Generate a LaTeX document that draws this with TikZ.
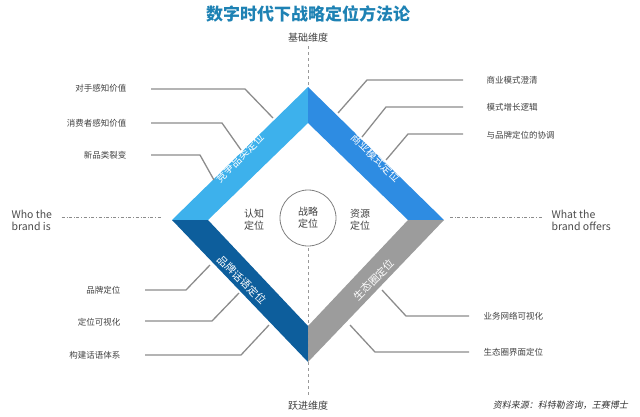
\documentclass[tikz,border=0pt]{standalone}
\usepackage{fontspec}
\usetikzlibrary{calc}
\setmainfont{Noto Sans CJK SC}
\begin{document}
\begin{tikzpicture}[x=1pt,y=-1pt,
  lab/.style={font=\fontsize{8.5}{10}\selectfont,text=black!75},
  call/.style={draw=black!45,line width=1.3pt},
  band/.style={font=\fontsize{10.5}{12}\selectfont,text=white,inner sep=0pt},
  dim/.style={font=\fontsize{10}{12}\selectfont,text=black!75},
  eng/.style={font=\fontsize{10.5}{12}\selectfont,text=black!70,align=left}]
\useasboundingbox (0,0) rectangle (640,416);
\definecolor{cA}{HTML}{3DB1EC}\definecolor{cB}{HTML}{2E8CE2}
\definecolor{cC}{HTML}{0D5E9C}\definecolor{cD}{HTML}{9C9C9C}
\coordinate (OT) at (308,87);\coordinate (OL) at (172,220);
\coordinate (OR) at (444,220);\coordinate (OB) at (308,362);
\coordinate (IT) at (308,123);\coordinate (IL) at (208,220);
\coordinate (IR) at (408,220);\coordinate (IB) at (308,326);
\fill[cA] (OT)--(OL)--(IL)--(IT)--cycle;
\fill[cB] (OT)--(OR)--(IR)--(IT)--cycle;
\fill[cC] (OB)--(OL)--(IL)--(IB)--cycle;
\fill[cD] (OB)--(OR)--(IR)--(IB)--cycle;
\node[font=\fontsize{17}{20}\selectfont\bfseries,text={rgb,255:red,30;green,130;blue,180}] (title) at (308,14) {数字时代下战略定位方法论};
\node[dim] (top) at (308,38) {基础维度};
\node[dim] (bot) at (308,406) {跃进维度};
\draw[black!40,dashed] (top.south) -- (OT);
\draw[black!40,dashed] (308,248) -- (bot.north);
\node[circle,draw=black!50,line width=0.8pt,minimum size=56pt,align=center,font=\fontsize{10}{12}\selectfont,text=black!75] (c) at (308,218) {战略\\定位};
\node[align=center,dim] (rz) at (254,220) {认知\\定位};
\node[align=center,dim] (zy) at (360,220) {资源\\定位};
\node[eng,anchor=west] (who) at (8,220) {Who the\\brand is};
\node[eng,anchor=west] (what) at (548,220) {What the\\brand offers};
\draw[black!45,dash dot] ($(who.east)+(6,-3)$) -- (162,217);
\draw[black!45,dash dot] (450,217) -- ($(what.west)+(-6,-3)$);
\node[band,rotate=45] (bA) at (240,158) {竞争品类定位};
\node[band,rotate=-45] (bB) at (376,158) {商业模式定位};
\node[band,rotate=-45] (bC) at (242,280) {品牌话语定位};
\node[band,rotate=45] (bD) at (374,280) {生态圈定位};
\node[lab,anchor=east] (l1) at (130,88) {对手感知价值};
\node[lab,anchor=east] (l2) at (130,123) {消费者感知价值};
\node[lab,anchor=east] (l3) at (130,155) {新品类裂变};
\draw[call] (151,89) -- (245,89) -- (273,118);
\draw[call] (151,123) -- (222,123) -- (241,150);
\draw[call] (151,155) -- (200,155) -- (214,180);
\node[lab,anchor=west] (r1) at (483,80) {商业模式澄清};
\node[lab,anchor=west] (r2) at (483,107) {模式增长逻辑};
\node[lab,anchor=west] (r3) at (483,135) {与品牌定位的协调};
\draw[call] (463,80) -- (367,80) -- (338,113);
\draw[call] (463,107) -- (386,107) -- (362,137);
\draw[call] (463,134) -- (408,134) -- (386,160);
\node[lab,anchor=east] (b1) at (124,290) {品牌定位};
\node[lab,anchor=east] (b2) at (124,322) {定位可视化};
\node[lab,anchor=east] (b3) at (124,355) {构建话语体系};
\draw[call] (145,290) -- (186,290) -- (210,265);
\draw[call] (145,321) -- (212,321) -- (239,293);
\draw[call] (145,355) -- (241,355) -- (269,325);
\node[lab,anchor=west] (d1) at (480,316) {业务网络可视化};
\node[lab,anchor=west] (d2) at (480,352) {生态圈界面定位};
\draw[call] (469,316) -- (406,316) -- (382,290);
\draw[call] (469,352) -- (375,352) -- (350,325);
\node[font=\fontsize{9}{10}\selectfont,text=black!80,anchor=east,xslant=0.2] (src) at (632,405) {资料来源：科特勒咨询，王赛博士};
\end{tikzpicture}
\end{document}
